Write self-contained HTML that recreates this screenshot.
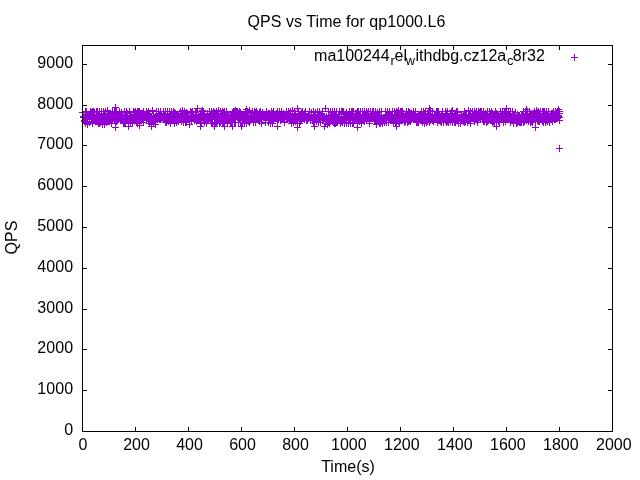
<!DOCTYPE html><html><head><meta charset="utf-8"><title>QPS vs Time for qp1000.L6</title><style>html,body{margin:0;padding:0;background:#fff}body{width:640px;height:480px;overflow:hidden}</style></head><body><svg width="640" height="480" viewBox="0 0 640 480" style="display:block">
<rect width="640" height="480" fill="#fff"/>
<g transform="translate(0.5,0.5)" shape-rendering="crispEdges" fill="none" stroke="#000" stroke-width="1">
<path stroke="#9400d3" d="M78.5 112h7M82 108.5v7M79.5 116h7M83 112.5v7M79.5 117h7M83 113.5v7M80.5 120h7M84 116.5v7M80.5 121h7M84 117.5v7M81.5 111h7M85 107.5v7M81.5 114h7M85 110.5v7M81.5 117h7M85 113.5v7M81.5 118h7M85 114.5v7M81.5 121h7M85 117.5v7M81.5 122h7M85 118.5v7M81.5 123h7M85 119.5v7M82.5 111h7M86 107.5v7M82.5 114h7M86 110.5v7M82.5 115h7M86 111.5v7M83.5 115h7M87 111.5v7M83.5 118h7M87 114.5v7M83.5 121h7M87 117.5v7M83.5 123h7M87 119.5v7M83.5 124h7M87 120.5v7M84.5 114h7M88 110.5v7M84.5 115h7M88 111.5v7M84.5 116h7M88 112.5v7M85.5 117h7M89 113.5v7M85.5 119h7M89 115.5v7M85.5 122h7M89 118.5v7M86.5 111h7M90 107.5v7M86.5 114h7M90 110.5v7M86.5 116h7M90 112.5v7M87.5 112h7M91 108.5v7M87.5 113h7M91 109.5v7M87.5 118h7M91 114.5v7M88.5 111h7M92 107.5v7M88.5 114h7M92 110.5v7M88.5 119h7M92 115.5v7M88.5 123h7M92 119.5v7M89.5 111h7M93 107.5v7M89.5 118h7M93 114.5v7M89.5 119h7M93 115.5v7M90.5 112h7M94 108.5v7M90.5 114h7M94 110.5v7M90.5 118h7M94 114.5v7M90.5 119h7M94 115.5v7M91.5 118h7M95 114.5v7M91.5 119h7M95 115.5v7M91.5 121h7M95 117.5v7M92.5 111h7M96 107.5v7M92.5 115h7M96 111.5v7M92.5 116h7M96 112.5v7M92.5 121h7M96 117.5v7M93.5 111h7M97 107.5v7M93.5 114h7M97 110.5v7M93.5 116h7M97 112.5v7M93.5 121h7M97 117.5v7M94.5 115h7M98 111.5v7M94.5 117h7M98 113.5v7M94.5 119h7M98 115.5v7M94.5 123h7M98 119.5v7M95.5 111h7M99 107.5v7M95.5 118h7M99 114.5v7M95.5 119h7M99 115.5v7M95.5 123h7M99 119.5v7M96.5 116h7M100 112.5v7M96.5 118h7M100 114.5v7M96.5 122h7M100 118.5v7M97.5 111h7M101 107.5v7M97.5 114h7M101 110.5v7M97.5 118h7M101 114.5v7M98.5 116h7M102 112.5v7M98.5 118h7M102 114.5v7M98.5 124h7M102 120.5v7M99.5 111h7M103 107.5v7M99.5 114h7M103 110.5v7M99.5 117h7M103 113.5v7M99.5 120h7M103 116.5v7M100.5 113h7M104 109.5v7M100.5 116h7M104 112.5v7M100.5 123h7M104 119.5v7M100.5 124h7M104 120.5v7M101.5 111h7M105 107.5v7M101.5 113h7M105 109.5v7M101.5 117h7M105 113.5v7M101.5 120h7M105 116.5v7M102.5 116h7M106 112.5v7M102.5 120h7M106 116.5v7M102.5 122h7M106 118.5v7M103.5 110h7M107 106.5v7M103.5 116h7M107 112.5v7M103.5 118h7M107 114.5v7M103.5 119h7M107 115.5v7M104.5 113h7M108 109.5v7M104.5 114h7M108 110.5v7M104.5 119h7M108 115.5v7M104.5 121h7M108 117.5v7M105.5 115h7M109 111.5v7M105.5 119h7M109 115.5v7M105.5 121h7M109 117.5v7M106.5 115h7M110 111.5v7M106.5 117h7M110 113.5v7M106.5 119h7M110 115.5v7M107.5 115h7M111 111.5v7M107.5 120h7M111 116.5v7M107.5 121h7M111 117.5v7M107.5 123h7M111 119.5v7M108.5 111h7M112 107.5v7M108.5 116h7M112 112.5v7M108.5 120h7M112 116.5v7M109.5 115h7M113 111.5v7M109.5 117h7M113 113.5v7M109.5 118h7M113 114.5v7M110.5 111h7M114 107.5v7M110.5 115h7M114 111.5v7M110.5 119h7M114 115.5v7M110.5 120h7M114 116.5v7M111.5 107h7M115 103.5v7M111.5 112h7M115 108.5v7M111.5 117h7M115 113.5v7M111.5 120h7M115 116.5v7M111.5 127h7M115 123.5v7M112.5 111h7M116 107.5v7M112.5 116h7M116 112.5v7M112.5 117h7M116 113.5v7M112.5 121h7M116 117.5v7M113.5 119h7M117 115.5v7M113.5 120h7M117 116.5v7M114.5 114h7M118 110.5v7M114.5 116h7M118 112.5v7M114.5 117h7M118 113.5v7M114.5 119h7M118 115.5v7M115.5 111h7M119 107.5v7M115.5 113h7M119 109.5v7M115.5 117h7M119 113.5v7M115.5 118h7M119 114.5v7M116.5 116h7M120 112.5v7M116.5 118h7M120 114.5v7M116.5 119h7M120 115.5v7M117.5 112h7M121 108.5v7M117.5 118h7M121 114.5v7M117.5 119h7M121 115.5v7M118.5 116h7M122 112.5v7M118.5 118h7M122 114.5v7M119.5 117h7M123 113.5v7M119.5 122h7M123 118.5v7M119.5 123h7M123 119.5v7M120.5 111h7M124 107.5v7M120.5 118h7M124 114.5v7M120.5 119h7M124 115.5v7M120.5 123h7M124 119.5v7M121.5 115h7M125 111.5v7M121.5 119h7M125 115.5v7M121.5 122h7M125 118.5v7M122.5 111h7M126 107.5v7M122.5 117h7M126 113.5v7M122.5 118h7M126 114.5v7M123.5 113h7M127 109.5v7M123.5 115h7M127 111.5v7M123.5 118h7M127 114.5v7M124.5 120h7M128 116.5v7M124.5 121h7M128 117.5v7M124.5 122h7M128 118.5v7M124.5 123h7M128 119.5v7M124.5 126h7M128 122.5v7M125.5 111h7M129 107.5v7M125.5 112h7M129 108.5v7M125.5 115h7M129 111.5v7M125.5 119h7M129 115.5v7M126.5 116h7M130 112.5v7M126.5 118h7M130 114.5v7M126.5 123h7M130 119.5v7M127.5 115h7M131 111.5v7M127.5 117h7M131 113.5v7M127.5 119h7M131 115.5v7M128.5 118h7M132 114.5v7M128.5 120h7M132 116.5v7M128.5 122h7M132 118.5v7M128.5 123h7M132 119.5v7M129.5 111h7M133 107.5v7M129.5 114h7M133 110.5v7M129.5 115h7M133 111.5v7M129.5 118h7M133 114.5v7M130.5 112h7M134 108.5v7M130.5 115h7M134 111.5v7M130.5 118h7M134 114.5v7M131.5 111h7M135 107.5v7M131.5 118h7M135 114.5v7M131.5 120h7M135 116.5v7M132.5 113h7M136 109.5v7M132.5 117h7M136 113.5v7M132.5 119h7M136 115.5v7M132.5 122h7M136 118.5v7M133.5 111h7M137 107.5v7M133.5 115h7M137 111.5v7M133.5 116h7M137 112.5v7M133.5 123h7M137 119.5v7M134.5 111h7M138 107.5v7M134.5 118h7M138 114.5v7M134.5 119h7M138 115.5v7M134.5 120h7M138 116.5v7M135.5 111h7M139 107.5v7M135.5 117h7M139 113.5v7M135.5 118h7M139 114.5v7M135.5 125h7M139 121.5v7M136.5 113h7M140 109.5v7M136.5 115h7M140 111.5v7M136.5 117h7M140 113.5v7M136.5 118h7M140 114.5v7M137.5 113h7M141 109.5v7M137.5 115h7M141 111.5v7M137.5 116h7M141 112.5v7M137.5 120h7M141 116.5v7M138.5 113h7M142 109.5v7M138.5 119h7M142 115.5v7M139.5 111h7M143 107.5v7M139.5 113h7M143 109.5v7M139.5 115h7M143 111.5v7M139.5 122h7M143 118.5v7M140.5 114h7M144 110.5v7M140.5 116h7M144 112.5v7M140.5 117h7M144 113.5v7M141.5 114h7M145 110.5v7M141.5 117h7M145 113.5v7M142.5 111h7M146 107.5v7M142.5 115h7M146 111.5v7M142.5 117h7M146 113.5v7M143.5 113h7M147 109.5v7M143.5 115h7M147 111.5v7M143.5 118h7M147 114.5v7M144.5 111h7M148 107.5v7M144.5 116h7M148 112.5v7M144.5 120h7M148 116.5v7M145.5 113h7M149 109.5v7M145.5 116h7M149 112.5v7M145.5 121h7M149 117.5v7M145.5 123h7M149 119.5v7M146.5 117h7M150 113.5v7M146.5 120h7M150 116.5v7M146.5 121h7M150 117.5v7M147.5 116h7M151 112.5v7M147.5 124h7M151 120.5v7M147.5 126h7M151 122.5v7M148.5 110h7M152 106.5v7M148.5 119h7M152 115.5v7M148.5 120h7M152 116.5v7M149.5 115h7M153 111.5v7M149.5 117h7M153 113.5v7M149.5 122h7M153 118.5v7M150.5 117h7M154 113.5v7M150.5 118h7M154 114.5v7M150.5 121h7M154 117.5v7M151.5 116h7M155 112.5v7M151.5 119h7M155 115.5v7M151.5 121h7M155 117.5v7M151.5 124h7M155 120.5v7M152.5 111h7M156 107.5v7M152.5 115h7M156 111.5v7M152.5 118h7M156 114.5v7M152.5 119h7M156 115.5v7M153.5 116h7M157 112.5v7M153.5 118h7M157 114.5v7M153.5 119h7M157 115.5v7M154.5 111h7M158 107.5v7M154.5 113h7M158 109.5v7M154.5 114h7M158 110.5v7M154.5 118h7M158 114.5v7M155.5 115h7M159 111.5v7M155.5 116h7M159 112.5v7M155.5 119h7M159 115.5v7M156.5 111h7M160 107.5v7M156.5 117h7M160 113.5v7M156.5 119h7M160 115.5v7M157.5 115h7M161 111.5v7M157.5 118h7M161 114.5v7M158.5 116h7M162 112.5v7M158.5 117h7M162 113.5v7M159.5 111h7M163 107.5v7M159.5 114h7M163 110.5v7M159.5 117h7M163 113.5v7M159.5 118h7M163 114.5v7M160.5 115h7M164 111.5v7M160.5 117h7M164 113.5v7M160.5 118h7M164 114.5v7M160.5 119h7M164 115.5v7M161.5 111h7M165 107.5v7M161.5 117h7M165 113.5v7M161.5 119h7M165 115.5v7M161.5 122h7M165 118.5v7M162.5 116h7M166 112.5v7M162.5 119h7M166 115.5v7M162.5 122h7M166 118.5v7M163.5 111h7M167 107.5v7M163.5 113h7M167 109.5v7M163.5 115h7M167 111.5v7M163.5 119h7M167 115.5v7M164.5 116h7M168 112.5v7M164.5 118h7M168 114.5v7M164.5 121h7M168 117.5v7M165.5 111h7M169 107.5v7M165.5 114h7M169 110.5v7M165.5 116h7M169 112.5v7M165.5 118h7M169 114.5v7M166.5 115h7M170 111.5v7M166.5 118h7M170 114.5v7M166.5 123h7M170 119.5v7M167.5 111h7M171 107.5v7M167.5 116h7M171 112.5v7M167.5 118h7M171 114.5v7M168.5 116h7M172 112.5v7M168.5 117h7M172 113.5v7M168.5 119h7M172 115.5v7M168.5 120h7M172 116.5v7M169.5 111h7M173 107.5v7M169.5 114h7M173 110.5v7M169.5 117h7M173 113.5v7M170.5 112h7M174 108.5v7M170.5 118h7M174 114.5v7M170.5 122h7M174 118.5v7M170.5 123h7M174 119.5v7M171.5 113h7M175 109.5v7M171.5 117h7M175 113.5v7M171.5 119h7M175 115.5v7M172.5 115h7M176 111.5v7M172.5 118h7M176 114.5v7M172.5 121h7M176 117.5v7M172.5 122h7M176 118.5v7M173.5 117h7M177 113.5v7M173.5 118h7M177 114.5v7M173.5 119h7M177 115.5v7M174.5 114h7M178 110.5v7M174.5 118h7M178 114.5v7M174.5 119h7M178 115.5v7M174.5 121h7M178 117.5v7M175.5 116h7M179 112.5v7M175.5 117h7M179 113.5v7M176.5 111h7M180 107.5v7M176.5 117h7M180 113.5v7M176.5 118h7M180 114.5v7M177.5 114h7M181 110.5v7M177.5 117h7M181 113.5v7M177.5 120h7M181 116.5v7M177.5 121h7M181 117.5v7M178.5 110h7M182 106.5v7M178.5 117h7M182 113.5v7M178.5 118h7M182 114.5v7M179.5 116h7M183 112.5v7M179.5 117h7M183 113.5v7M179.5 122h7M183 118.5v7M180.5 111h7M184 107.5v7M180.5 112h7M184 108.5v7M180.5 117h7M184 113.5v7M181.5 115h7M185 111.5v7M181.5 120h7M185 116.5v7M181.5 121h7M185 117.5v7M181.5 122h7M185 118.5v7M182.5 112h7M186 108.5v7M182.5 116h7M186 112.5v7M182.5 118h7M186 114.5v7M182.5 122h7M186 118.5v7M183.5 113h7M187 109.5v7M183.5 116h7M187 112.5v7M183.5 118h7M187 114.5v7M183.5 119h7M187 115.5v7M184.5 116h7M188 112.5v7M184.5 118h7M188 114.5v7M184.5 119h7M188 115.5v7M185.5 118h7M189 114.5v7M185.5 120h7M189 116.5v7M185.5 121h7M189 117.5v7M185.5 124h7M189 120.5v7M186.5 111h7M190 107.5v7M186.5 117h7M190 113.5v7M186.5 118h7M190 114.5v7M187.5 112h7M191 108.5v7M187.5 117h7M191 113.5v7M187.5 118h7M191 114.5v7M187.5 120h7M191 116.5v7M188.5 111h7M192 107.5v7M188.5 115h7M192 111.5v7M188.5 117h7M192 113.5v7M189.5 115h7M193 111.5v7M189.5 116h7M193 112.5v7M190.5 117h7M194 113.5v7M190.5 118h7M194 114.5v7M190.5 120h7M194 116.5v7M191.5 112h7M195 108.5v7M191.5 118h7M195 114.5v7M191.5 119h7M195 115.5v7M192.5 111h7M196 107.5v7M192.5 116h7M196 112.5v7M192.5 117h7M196 113.5v7M192.5 121h7M196 117.5v7M193.5 108h7M197 104.5v7M193.5 117h7M197 113.5v7M193.5 119h7M197 115.5v7M194.5 116h7M198 112.5v7M194.5 117h7M198 113.5v7M194.5 119h7M198 115.5v7M194.5 120h7M198 116.5v7M195.5 116h7M199 112.5v7M195.5 117h7M199 113.5v7M195.5 118h7M199 114.5v7M195.5 119h7M199 115.5v7M196.5 115h7M200 111.5v7M196.5 116h7M200 112.5v7M196.5 123h7M200 119.5v7M196.5 126h7M200 122.5v7M197.5 111h7M201 107.5v7M197.5 123h7M201 119.5v7M198.5 110h7M202 106.5v7M198.5 113h7M202 109.5v7M198.5 115h7M202 111.5v7M198.5 117h7M202 113.5v7M199.5 111h7M203 107.5v7M199.5 113h7M203 109.5v7M199.5 114h7M203 110.5v7M199.5 120h7M203 116.5v7M200.5 115h7M204 111.5v7M200.5 119h7M204 115.5v7M200.5 122h7M204 118.5v7M201.5 116h7M205 112.5v7M201.5 117h7M205 113.5v7M201.5 118h7M205 114.5v7M201.5 119h7M205 115.5v7M202.5 117h7M206 113.5v7M202.5 118h7M206 114.5v7M202.5 123h7M206 119.5v7M203.5 113h7M207 109.5v7M203.5 116h7M207 112.5v7M203.5 118h7M207 114.5v7M203.5 120h7M207 116.5v7M204.5 118h7M208 114.5v7M204.5 119h7M208 115.5v7M204.5 120h7M208 116.5v7M205.5 111h7M209 107.5v7M205.5 116h7M209 112.5v7M205.5 118h7M209 114.5v7M206.5 114h7M210 110.5v7M206.5 119h7M210 115.5v7M207.5 111h7M211 107.5v7M207.5 117h7M211 113.5v7M207.5 118h7M211 114.5v7M207.5 123h7M211 119.5v7M208.5 113h7M212 109.5v7M208.5 119h7M212 115.5v7M208.5 123h7M212 119.5v7M209.5 111h7M213 107.5v7M209.5 116h7M213 112.5v7M210.5 112h7M214 108.5v7M210.5 117h7M214 113.5v7M210.5 122h7M214 118.5v7M210.5 124h7M214 120.5v7M210.5 126h7M214 122.5v7M211.5 116h7M215 112.5v7M211.5 118h7M215 114.5v7M211.5 122h7M215 118.5v7M212.5 111h7M216 107.5v7M212.5 116h7M216 112.5v7M212.5 117h7M216 113.5v7M212.5 122h7M216 118.5v7M213.5 116h7M217 112.5v7M213.5 117h7M217 113.5v7M213.5 118h7M217 114.5v7M214.5 110h7M218 106.5v7M214.5 114h7M218 110.5v7M214.5 116h7M218 112.5v7M214.5 118h7M218 114.5v7M215.5 116h7M219 112.5v7M215.5 118h7M219 114.5v7M215.5 123h7M219 119.5v7M216.5 111h7M220 107.5v7M216.5 116h7M220 112.5v7M216.5 122h7M220 118.5v7M217.5 115h7M221 111.5v7M217.5 116h7M221 112.5v7M217.5 118h7M221 114.5v7M218.5 111h7M222 107.5v7M218.5 114h7M222 110.5v7M218.5 115h7M222 111.5v7M218.5 122h7M222 118.5v7M219.5 112h7M223 108.5v7M219.5 117h7M223 113.5v7M219.5 122h7M223 118.5v7M220.5 111h7M224 107.5v7M220.5 118h7M224 114.5v7M220.5 119h7M224 115.5v7M220.5 122h7M224 118.5v7M220.5 126h7M224 122.5v7M221.5 115h7M225 111.5v7M221.5 117h7M225 113.5v7M221.5 118h7M225 114.5v7M222.5 111h7M226 107.5v7M222.5 114h7M226 110.5v7M222.5 115h7M226 111.5v7M222.5 120h7M226 116.5v7M223.5 115h7M227 111.5v7M223.5 116h7M227 112.5v7M223.5 121h7M227 117.5v7M223.5 123h7M227 119.5v7M224.5 115h7M228 111.5v7M224.5 118h7M228 114.5v7M224.5 120h7M228 116.5v7M225.5 117h7M229 113.5v7M225.5 118h7M229 114.5v7M225.5 120h7M229 116.5v7M226.5 116h7M230 112.5v7M226.5 119h7M230 115.5v7M226.5 122h7M230 118.5v7M227.5 114h7M231 110.5v7M227.5 117h7M231 113.5v7M227.5 122h7M231 118.5v7M228.5 112h7M232 108.5v7M228.5 115h7M232 111.5v7M228.5 118h7M232 114.5v7M228.5 126h7M232 122.5v7M229.5 111h7M233 107.5v7M229.5 114h7M233 110.5v7M229.5 118h7M233 114.5v7M229.5 119h7M233 115.5v7M230.5 111h7M234 107.5v7M230.5 117h7M234 113.5v7M230.5 122h7M234 118.5v7M231.5 110h7M235 106.5v7M231.5 113h7M235 109.5v7M231.5 117h7M235 113.5v7M231.5 122h7M235 118.5v7M232.5 111h7M236 107.5v7M232.5 112h7M236 108.5v7M232.5 115h7M236 111.5v7M233.5 111h7M237 107.5v7M233.5 116h7M237 112.5v7M233.5 117h7M237 113.5v7M234.5 116h7M238 112.5v7M234.5 117h7M238 113.5v7M234.5 118h7M238 114.5v7M234.5 122h7M238 118.5v7M235.5 111h7M239 107.5v7M235.5 113h7M239 109.5v7M235.5 116h7M239 112.5v7M235.5 119h7M239 115.5v7M236.5 112h7M240 108.5v7M236.5 114h7M240 110.5v7M236.5 118h7M240 114.5v7M236.5 122h7M240 118.5v7M237.5 114h7M241 110.5v7M237.5 117h7M241 113.5v7M237.5 126h7M241 122.5v7M238.5 118h7M242 114.5v7M238.5 119h7M242 115.5v7M238.5 122h7M242 118.5v7M239.5 116h7M243 112.5v7M239.5 117h7M243 113.5v7M239.5 119h7M243 115.5v7M240.5 114h7M244 110.5v7M240.5 115h7M244 111.5v7M240.5 120h7M244 116.5v7M240.5 122h7M244 118.5v7M241.5 111h7M245 107.5v7M241.5 116h7M245 112.5v7M241.5 118h7M245 114.5v7M242.5 109h7M246 105.5v7M242.5 111h7M246 107.5v7M242.5 112h7M246 108.5v7M242.5 118h7M246 114.5v7M242.5 123h7M246 119.5v7M243.5 111h7M247 107.5v7M243.5 115h7M247 111.5v7M243.5 118h7M247 114.5v7M244.5 113h7M248 109.5v7M244.5 115h7M248 111.5v7M244.5 118h7M248 114.5v7M244.5 121h7M248 117.5v7M245.5 110h7M249 106.5v7M245.5 119h7M249 115.5v7M245.5 121h7M249 117.5v7M245.5 122h7M249 118.5v7M246.5 116h7M250 112.5v7M246.5 118h7M250 114.5v7M246.5 120h7M250 116.5v7M247.5 113h7M251 109.5v7M247.5 116h7M251 112.5v7M247.5 117h7M251 113.5v7M247.5 118h7M251 114.5v7M248.5 111h7M252 107.5v7M248.5 112h7M252 108.5v7M248.5 113h7M252 109.5v7M248.5 119h7M252 115.5v7M249.5 116h7M253 112.5v7M249.5 118h7M253 114.5v7M249.5 122h7M253 118.5v7M250.5 111h7M254 107.5v7M250.5 118h7M254 114.5v7M250.5 119h7M254 115.5v7M251.5 112h7M255 108.5v7M251.5 116h7M255 112.5v7M251.5 117h7M255 113.5v7M251.5 122h7M255 118.5v7M252.5 111h7M256 107.5v7M252.5 115h7M256 111.5v7M252.5 118h7M256 114.5v7M252.5 119h7M256 115.5v7M253.5 113h7M257 109.5v7M253.5 115h7M257 111.5v7M253.5 117h7M257 113.5v7M253.5 118h7M257 114.5v7M254.5 114h7M258 110.5v7M254.5 115h7M258 111.5v7M254.5 118h7M258 114.5v7M255.5 112h7M259 108.5v7M255.5 115h7M259 111.5v7M255.5 121h7M259 117.5v7M256.5 111h7M260 107.5v7M256.5 115h7M260 111.5v7M256.5 116h7M260 112.5v7M256.5 118h7M260 114.5v7M257.5 114h7M261 110.5v7M257.5 118h7M261 114.5v7M257.5 123h7M261 119.5v7M258.5 112h7M262 108.5v7M258.5 113h7M262 109.5v7M258.5 115h7M262 111.5v7M258.5 116h7M262 112.5v7M259.5 116h7M263 112.5v7M259.5 117h7M263 113.5v7M260.5 114h7M264 110.5v7M260.5 116h7M264 112.5v7M260.5 117h7M264 113.5v7M261.5 115h7M265 111.5v7M261.5 116h7M265 112.5v7M261.5 119h7M265 115.5v7M261.5 122h7M265 118.5v7M262.5 111h7M266 107.5v7M262.5 116h7M266 112.5v7M262.5 117h7M266 113.5v7M263.5 115h7M267 111.5v7M263.5 117h7M267 113.5v7M264.5 113h7M268 109.5v7M264.5 115h7M268 111.5v7M264.5 118h7M268 114.5v7M264.5 122h7M268 118.5v7M265.5 113h7M269 109.5v7M265.5 114h7M269 110.5v7M265.5 116h7M269 112.5v7M266.5 117h7M270 113.5v7M266.5 119h7M270 115.5v7M266.5 120h7M270 116.5v7M266.5 123h7M270 119.5v7M267.5 111h7M271 107.5v7M267.5 117h7M271 113.5v7M267.5 119h7M271 115.5v7M268.5 113h7M272 109.5v7M268.5 121h7M272 117.5v7M268.5 123h7M272 119.5v7M269.5 111h7M273 107.5v7M269.5 112h7M273 108.5v7M269.5 119h7M273 115.5v7M269.5 120h7M273 116.5v7M270.5 114h7M274 110.5v7M270.5 117h7M274 113.5v7M270.5 118h7M274 114.5v7M271.5 115h7M275 111.5v7M271.5 116h7M275 112.5v7M271.5 117h7M275 113.5v7M271.5 118h7M275 114.5v7M272.5 113h7M276 109.5v7M272.5 116h7M276 112.5v7M272.5 118h7M276 114.5v7M273.5 111h7M277 107.5v7M273.5 114h7M277 110.5v7M273.5 117h7M277 113.5v7M273.5 119h7M277 115.5v7M273.5 126h7M277 122.5v7M274.5 117h7M278 113.5v7M274.5 119h7M278 115.5v7M275.5 111h7M279 107.5v7M275.5 114h7M279 110.5v7M275.5 116h7M279 112.5v7M275.5 117h7M279 113.5v7M276.5 117h7M280 113.5v7M276.5 119h7M280 115.5v7M276.5 120h7M280 116.5v7M277.5 111h7M281 107.5v7M277.5 112h7M281 108.5v7M277.5 116h7M281 112.5v7M278.5 115h7M282 111.5v7M278.5 117h7M282 113.5v7M278.5 118h7M282 114.5v7M278.5 119h7M282 115.5v7M279.5 113h7M283 109.5v7M279.5 115h7M283 111.5v7M280.5 116h7M284 112.5v7M280.5 119h7M284 115.5v7M280.5 121h7M284 117.5v7M280.5 122h7M284 118.5v7M281.5 114h7M285 110.5v7M281.5 115h7M285 111.5v7M281.5 116h7M285 112.5v7M282.5 111h7M286 107.5v7M282.5 112h7M286 108.5v7M282.5 114h7M286 110.5v7M283.5 114h7M287 110.5v7M283.5 115h7M287 111.5v7M284.5 111h7M288 107.5v7M284.5 115h7M288 111.5v7M284.5 118h7M288 114.5v7M285.5 114h7M289 110.5v7M285.5 115h7M289 111.5v7M285.5 118h7M289 114.5v7M285.5 120h7M289 116.5v7M286.5 111h7M290 107.5v7M286.5 114h7M290 110.5v7M286.5 119h7M290 115.5v7M287.5 116h7M291 112.5v7M287.5 117h7M291 113.5v7M287.5 123h7M291 119.5v7M288.5 110h7M292 106.5v7M288.5 114h7M292 110.5v7M288.5 117h7M292 113.5v7M289.5 117h7M293 113.5v7M289.5 118h7M293 114.5v7M289.5 122h7M293 118.5v7M290.5 111h7M294 107.5v7M290.5 117h7M294 113.5v7M291.5 113h7M295 109.5v7M291.5 118h7M295 114.5v7M291.5 120h7M295 116.5v7M291.5 121h7M295 117.5v7M292.5 116h7M296 112.5v7M292.5 117h7M296 113.5v7M292.5 119h7M296 115.5v7M293.5 108h7M297 104.5v7M293.5 117h7M297 113.5v7M293.5 118h7M297 114.5v7M293.5 119h7M297 115.5v7M293.5 127h7M297 123.5v7M294.5 111h7M298 107.5v7M294.5 115h7M298 111.5v7M295.5 114h7M299 110.5v7M295.5 115h7M299 111.5v7M295.5 116h7M299 112.5v7M295.5 123h7M299 119.5v7M296.5 114h7M300 110.5v7M296.5 116h7M300 112.5v7M296.5 118h7M300 114.5v7M296.5 121h7M300 117.5v7M297.5 112h7M301 108.5v7M297.5 113h7M301 109.5v7M297.5 116h7M301 112.5v7M297.5 119h7M301 115.5v7M298.5 111h7M302 107.5v7M298.5 114h7M302 110.5v7M298.5 116h7M302 112.5v7M298.5 117h7M302 113.5v7M299.5 117h7M303 113.5v7M299.5 118h7M303 114.5v7M300.5 113h7M304 109.5v7M300.5 115h7M304 111.5v7M300.5 118h7M304 114.5v7M300.5 119h7M304 115.5v7M301.5 111h7M305 107.5v7M301.5 115h7M305 111.5v7M301.5 117h7M305 113.5v7M302.5 116h7M306 112.5v7M302.5 118h7M306 114.5v7M302.5 119h7M306 115.5v7M302.5 120h7M306 116.5v7M303.5 117h7M307 113.5v7M303.5 120h7M307 116.5v7M304.5 114h7M308 110.5v7M304.5 117h7M308 113.5v7M304.5 118h7M308 114.5v7M305.5 111h7M309 107.5v7M305.5 115h7M309 111.5v7M305.5 116h7M309 112.5v7M306.5 118h7M310 114.5v7M306.5 119h7M310 115.5v7M306.5 120h7M310 116.5v7M307.5 112h7M311 108.5v7M307.5 114h7M311 110.5v7M307.5 117h7M311 113.5v7M308.5 117h7M312 113.5v7M308.5 119h7M312 115.5v7M308.5 120h7M312 116.5v7M309.5 111h7M313 107.5v7M309.5 117h7M313 113.5v7M309.5 118h7M313 114.5v7M309.5 122h7M313 118.5v7M310.5 114h7M314 110.5v7M310.5 115h7M314 111.5v7M310.5 116h7M314 112.5v7M310.5 118h7M314 114.5v7M310.5 126h7M314 122.5v7M311.5 112h7M315 108.5v7M311.5 115h7M315 111.5v7M311.5 116h7M315 112.5v7M311.5 119h7M315 115.5v7M312.5 117h7M316 113.5v7M312.5 119h7M316 115.5v7M312.5 121h7M316 117.5v7M313.5 111h7M317 107.5v7M313.5 114h7M317 110.5v7M313.5 116h7M317 112.5v7M314.5 116h7M318 112.5v7M314.5 117h7M318 113.5v7M314.5 120h7M318 116.5v7M314.5 122h7M318 118.5v7M315.5 111h7M319 107.5v7M315.5 116h7M319 112.5v7M315.5 118h7M319 114.5v7M315.5 119h7M319 115.5v7M316.5 115h7M320 111.5v7M316.5 117h7M320 113.5v7M316.5 118h7M320 114.5v7M316.5 122h7M320 118.5v7M317.5 115h7M321 111.5v7M317.5 116h7M321 112.5v7M317.5 117h7M321 113.5v7M318.5 111h7M322 107.5v7M318.5 115h7M322 111.5v7M318.5 118h7M322 114.5v7M319.5 116h7M323 112.5v7M319.5 117h7M323 113.5v7M319.5 118h7M323 114.5v7M320.5 116h7M324 112.5v7M320.5 118h7M324 114.5v7M320.5 126h7M324 122.5v7M321.5 108h7M325 104.5v7M321.5 118h7M325 114.5v7M321.5 120h7M325 116.5v7M321.5 123h7M325 119.5v7M322.5 116h7M326 112.5v7M322.5 118h7M326 114.5v7M322.5 119h7M326 115.5v7M323.5 118h7M327 114.5v7M323.5 121h7M327 117.5v7M323.5 123h7M327 119.5v7M323.5 124h7M327 120.5v7M324.5 111h7M328 107.5v7M324.5 117h7M328 113.5v7M324.5 118h7M328 114.5v7M324.5 122h7M328 118.5v7M325.5 117h7M329 113.5v7M325.5 120h7M329 116.5v7M325.5 123h7M329 119.5v7M326.5 111h7M330 107.5v7M326.5 115h7M330 111.5v7M326.5 117h7M330 113.5v7M326.5 118h7M330 114.5v7M327.5 114h7M331 110.5v7M327.5 116h7M331 112.5v7M327.5 119h7M331 115.5v7M328.5 111h7M332 107.5v7M328.5 112h7M332 108.5v7M328.5 115h7M332 111.5v7M328.5 121h7M332 117.5v7M329.5 115h7M333 111.5v7M329.5 118h7M333 114.5v7M329.5 122h7M333 118.5v7M330.5 111h7M334 107.5v7M330.5 116h7M334 112.5v7M330.5 123h7M334 119.5v7M331.5 115h7M335 111.5v7M331.5 116h7M335 112.5v7M331.5 117h7M335 113.5v7M331.5 123h7M335 119.5v7M332.5 111h7M336 107.5v7M332.5 114h7M336 110.5v7M332.5 117h7M336 113.5v7M332.5 122h7M336 118.5v7M333.5 117h7M337 113.5v7M333.5 118h7M337 114.5v7M333.5 122h7M337 118.5v7M334.5 114h7M338 110.5v7M334.5 116h7M338 112.5v7M334.5 120h7M338 116.5v7M335.5 111h7M339 107.5v7M335.5 114h7M339 110.5v7M335.5 117h7M339 113.5v7M335.5 118h7M339 114.5v7M336.5 119h7M340 115.5v7M336.5 120h7M340 116.5v7M336.5 123h7M340 119.5v7M337.5 111h7M341 107.5v7M337.5 112h7M341 108.5v7M337.5 121h7M341 117.5v7M338.5 111h7M342 107.5v7M338.5 119h7M342 115.5v7M338.5 120h7M342 116.5v7M338.5 122h7M342 118.5v7M339.5 111h7M343 107.5v7M339.5 113h7M343 109.5v7M339.5 117h7M343 113.5v7M340.5 114h7M344 110.5v7M340.5 120h7M344 116.5v7M340.5 122h7M344 118.5v7M340.5 123h7M344 119.5v7M341.5 116h7M345 112.5v7M341.5 117h7M345 113.5v7M341.5 118h7M345 114.5v7M341.5 120h7M345 116.5v7M342.5 112h7M346 108.5v7M342.5 116h7M346 112.5v7M342.5 117h7M346 113.5v7M342.5 123h7M346 119.5v7M343.5 114h7M347 110.5v7M343.5 116h7M347 112.5v7M343.5 117h7M347 113.5v7M344.5 116h7M348 112.5v7M344.5 120h7M348 116.5v7M344.5 123h7M348 119.5v7M345.5 111h7M349 107.5v7M345.5 118h7M349 114.5v7M345.5 120h7M349 116.5v7M346.5 114h7M350 110.5v7M346.5 115h7M350 111.5v7M346.5 119h7M350 115.5v7M346.5 123h7M350 119.5v7M347.5 111h7M351 107.5v7M347.5 115h7M351 111.5v7M348.5 111h7M352 107.5v7M348.5 115h7M352 111.5v7M348.5 119h7M352 115.5v7M348.5 123h7M352 119.5v7M349.5 111h7M353 107.5v7M349.5 115h7M353 111.5v7M349.5 122h7M353 118.5v7M349.5 123h7M353 119.5v7M350.5 116h7M354 112.5v7M350.5 117h7M354 113.5v7M350.5 119h7M354 115.5v7M351.5 113h7M355 109.5v7M351.5 114h7M355 110.5v7M351.5 115h7M355 111.5v7M351.5 116h7M355 112.5v7M352.5 113h7M356 109.5v7M352.5 117h7M356 113.5v7M352.5 118h7M356 114.5v7M353.5 111h7M357 107.5v7M353.5 120h7M357 116.5v7M353.5 121h7M357 117.5v7M353.5 127h7M357 123.5v7M354.5 111h7M358 107.5v7M354.5 115h7M358 111.5v7M354.5 116h7M358 112.5v7M354.5 119h7M358 115.5v7M355.5 115h7M359 111.5v7M355.5 116h7M359 112.5v7M355.5 119h7M359 115.5v7M355.5 121h7M359 117.5v7M356.5 111h7M360 107.5v7M356.5 117h7M360 113.5v7M356.5 118h7M360 114.5v7M357.5 118h7M361 114.5v7M357.5 120h7M361 116.5v7M357.5 122h7M361 118.5v7M357.5 123h7M361 119.5v7M358.5 111h7M362 107.5v7M358.5 117h7M362 113.5v7M358.5 120h7M362 116.5v7M359.5 115h7M363 111.5v7M359.5 117h7M363 113.5v7M359.5 119h7M363 115.5v7M359.5 120h7M363 116.5v7M360.5 111h7M364 107.5v7M360.5 114h7M364 110.5v7M360.5 116h7M364 112.5v7M360.5 121h7M364 117.5v7M361.5 114h7M365 110.5v7M361.5 116h7M365 112.5v7M361.5 117h7M365 113.5v7M362.5 111h7M366 107.5v7M362.5 115h7M366 111.5v7M362.5 118h7M366 114.5v7M362.5 120h7M366 116.5v7M363.5 113h7M367 109.5v7M363.5 114h7M367 110.5v7M363.5 115h7M367 111.5v7M363.5 116h7M367 112.5v7M364.5 111h7M368 107.5v7M364.5 115h7M368 111.5v7M364.5 117h7M368 113.5v7M364.5 118h7M368 114.5v7M365.5 117h7M369 113.5v7M365.5 121h7M369 117.5v7M365.5 123h7M369 119.5v7M366.5 111h7M370 107.5v7M366.5 114h7M370 110.5v7M366.5 117h7M370 113.5v7M367.5 115h7M371 111.5v7M367.5 116h7M371 112.5v7M368.5 111h7M372 107.5v7M368.5 118h7M372 114.5v7M369.5 111h7M373 107.5v7M369.5 116h7M373 112.5v7M369.5 117h7M373 113.5v7M370.5 115h7M374 111.5v7M370.5 116h7M374 112.5v7M370.5 118h7M374 114.5v7M370.5 120h7M374 116.5v7M371.5 111h7M375 107.5v7M371.5 115h7M375 111.5v7M371.5 116h7M375 112.5v7M371.5 120h7M375 116.5v7M372.5 114h7M376 110.5v7M372.5 116h7M376 112.5v7M372.5 121h7M376 117.5v7M372.5 124h7M376 120.5v7M373.5 112h7M377 108.5v7M373.5 116h7M377 112.5v7M373.5 117h7M377 113.5v7M373.5 119h7M377 115.5v7M374.5 115h7M378 111.5v7M374.5 117h7M378 113.5v7M374.5 119h7M378 115.5v7M375.5 111h7M379 107.5v7M375.5 115h7M379 111.5v7M375.5 120h7M379 116.5v7M375.5 123h7M379 119.5v7M376.5 117h7M380 113.5v7M376.5 119h7M380 115.5v7M376.5 123h7M380 119.5v7M377.5 111h7M381 107.5v7M377.5 116h7M381 112.5v7M377.5 118h7M381 114.5v7M377.5 121h7M381 117.5v7M378.5 118h7M382 114.5v7M378.5 122h7M382 118.5v7M378.5 123h7M382 119.5v7M379.5 117h7M383 113.5v7M379.5 119h7M383 115.5v7M380.5 117h7M384 113.5v7M380.5 120h7M384 116.5v7M380.5 122h7M384 118.5v7M381.5 111h7M385 107.5v7M381.5 119h7M385 115.5v7M381.5 120h7M385 116.5v7M382.5 114h7M386 110.5v7M382.5 115h7M386 111.5v7M382.5 118h7M386 114.5v7M382.5 122h7M386 118.5v7M383.5 111h7M387 107.5v7M383.5 115h7M387 111.5v7M384.5 116h7M388 112.5v7M384.5 117h7M388 113.5v7M384.5 118h7M388 114.5v7M384.5 122h7M388 118.5v7M385.5 111h7M389 107.5v7M385.5 112h7M389 108.5v7M385.5 117h7M389 113.5v7M385.5 118h7M389 114.5v7M386.5 114h7M390 110.5v7M386.5 115h7M390 111.5v7M386.5 118h7M390 114.5v7M387.5 115h7M391 111.5v7M387.5 120h7M391 116.5v7M388.5 111h7M392 107.5v7M388.5 116h7M392 112.5v7M388.5 118h7M392 114.5v7M388.5 119h7M392 115.5v7M389.5 117h7M393 113.5v7M389.5 120h7M393 116.5v7M389.5 123h7M393 119.5v7M390.5 111h7M394 107.5v7M390.5 115h7M394 111.5v7M390.5 116h7M394 112.5v7M390.5 117h7M394 113.5v7M391.5 115h7M395 111.5v7M391.5 117h7M395 113.5v7M391.5 121h7M395 117.5v7M391.5 122h7M395 118.5v7M392.5 111h7M396 107.5v7M392.5 115h7M396 111.5v7M392.5 118h7M396 114.5v7M392.5 126h7M396 122.5v7M393.5 112h7M397 108.5v7M393.5 114h7M397 110.5v7M393.5 119h7M397 115.5v7M393.5 120h7M397 116.5v7M394.5 110h7M398 106.5v7M394.5 114h7M398 110.5v7M394.5 116h7M398 112.5v7M394.5 121h7M398 117.5v7M395.5 115h7M399 111.5v7M395.5 118h7M399 114.5v7M395.5 123h7M399 119.5v7M396.5 111h7M400 107.5v7M396.5 115h7M400 111.5v7M396.5 119h7M400 115.5v7M397.5 111h7M401 107.5v7M397.5 115h7M401 111.5v7M397.5 116h7M401 112.5v7M397.5 119h7M401 115.5v7M398.5 111h7M402 107.5v7M398.5 116h7M402 112.5v7M398.5 117h7M402 113.5v7M398.5 118h7M402 114.5v7M399.5 113h7M403 109.5v7M399.5 115h7M403 111.5v7M399.5 116h7M403 112.5v7M399.5 118h7M403 114.5v7M400.5 117h7M404 113.5v7M400.5 119h7M404 115.5v7M400.5 122h7M404 118.5v7M401.5 115h7M405 111.5v7M401.5 117h7M405 113.5v7M401.5 119h7M405 115.5v7M401.5 121h7M405 117.5v7M402.5 111h7M406 107.5v7M402.5 116h7M406 112.5v7M402.5 117h7M406 113.5v7M403.5 116h7M407 112.5v7M403.5 117h7M407 113.5v7M403.5 122h7M407 118.5v7M404.5 111h7M408 107.5v7M404.5 115h7M408 111.5v7M404.5 118h7M408 114.5v7M404.5 121h7M408 117.5v7M405.5 112h7M409 108.5v7M405.5 119h7M409 115.5v7M405.5 120h7M409 116.5v7M406.5 113h7M410 109.5v7M406.5 115h7M410 111.5v7M406.5 119h7M410 115.5v7M406.5 121h7M410 117.5v7M407.5 113h7M411 109.5v7M407.5 117h7M411 113.5v7M407.5 118h7M411 114.5v7M407.5 119h7M411 115.5v7M408.5 114h7M412 110.5v7M408.5 116h7M412 112.5v7M408.5 117h7M412 113.5v7M409.5 111h7M413 107.5v7M409.5 117h7M413 113.5v7M409.5 118h7M413 114.5v7M410.5 114h7M414 110.5v7M410.5 117h7M414 113.5v7M410.5 118h7M414 114.5v7M411.5 111h7M415 107.5v7M411.5 114h7M415 110.5v7M411.5 117h7M415 113.5v7M411.5 118h7M415 114.5v7M412.5 116h7M416 112.5v7M412.5 117h7M416 113.5v7M412.5 118h7M416 114.5v7M412.5 122h7M416 118.5v7M413.5 116h7M417 112.5v7M413.5 120h7M417 116.5v7M413.5 122h7M417 118.5v7M414.5 114h7M418 110.5v7M414.5 115h7M418 111.5v7M414.5 122h7M418 118.5v7M415.5 115h7M419 111.5v7M415.5 116h7M419 112.5v7M415.5 117h7M419 113.5v7M415.5 119h7M419 115.5v7M416.5 114h7M420 110.5v7M416.5 119h7M420 115.5v7M416.5 120h7M420 116.5v7M417.5 111h7M421 107.5v7M417.5 117h7M421 113.5v7M417.5 118h7M421 114.5v7M418.5 114h7M422 110.5v7M418.5 118h7M422 114.5v7M418.5 122h7M422 118.5v7M419.5 111h7M423 107.5v7M419.5 116h7M423 112.5v7M419.5 117h7M423 113.5v7M420.5 113h7M424 109.5v7M420.5 116h7M424 112.5v7M420.5 121h7M424 117.5v7M420.5 123h7M424 119.5v7M421.5 111h7M425 107.5v7M421.5 116h7M425 112.5v7M421.5 117h7M425 113.5v7M421.5 120h7M425 116.5v7M422.5 117h7M426 113.5v7M422.5 119h7M426 115.5v7M422.5 122h7M426 118.5v7M423.5 115h7M427 111.5v7M423.5 120h7M427 116.5v7M423.5 121h7M427 117.5v7M424.5 111h7M428 107.5v7M424.5 113h7M428 109.5v7M424.5 114h7M428 110.5v7M424.5 115h7M428 111.5v7M425.5 108h7M429 104.5v7M425.5 113h7M429 109.5v7M425.5 116h7M429 112.5v7M425.5 117h7M429 113.5v7M425.5 122h7M429 118.5v7M426.5 110h7M430 106.5v7M426.5 116h7M430 112.5v7M426.5 118h7M430 114.5v7M426.5 120h7M430 116.5v7M427.5 117h7M431 113.5v7M427.5 118h7M431 114.5v7M428.5 111h7M432 107.5v7M428.5 115h7M432 111.5v7M428.5 119h7M432 115.5v7M428.5 120h7M432 116.5v7M429.5 117h7M433 113.5v7M429.5 121h7M433 117.5v7M430.5 115h7M434 111.5v7M430.5 116h7M434 112.5v7M430.5 118h7M434 114.5v7M431.5 115h7M435 111.5v7M431.5 118h7M435 114.5v7M431.5 119h7M435 115.5v7M432.5 111h7M436 107.5v7M432.5 115h7M436 111.5v7M432.5 116h7M436 112.5v7M432.5 117h7M436 113.5v7M433.5 111h7M437 107.5v7M433.5 118h7M437 114.5v7M433.5 119h7M437 115.5v7M433.5 122h7M437 118.5v7M434.5 111h7M438 107.5v7M434.5 117h7M438 113.5v7M434.5 120h7M438 116.5v7M435.5 114h7M439 110.5v7M435.5 117h7M439 113.5v7M435.5 118h7M439 114.5v7M435.5 120h7M439 116.5v7M436.5 116h7M440 112.5v7M436.5 119h7M440 115.5v7M436.5 121h7M440 117.5v7M437.5 114h7M441 110.5v7M437.5 116h7M441 112.5v7M437.5 117h7M441 113.5v7M437.5 122h7M441 118.5v7M438.5 111h7M442 107.5v7M438.5 115h7M442 111.5v7M438.5 118h7M442 114.5v7M438.5 119h7M442 115.5v7M439.5 117h7M443 113.5v7M439.5 122h7M443 118.5v7M440.5 117h7M444 113.5v7M440.5 118h7M444 114.5v7M441.5 111h7M445 107.5v7M441.5 114h7M445 110.5v7M441.5 115h7M445 111.5v7M441.5 120h7M445 116.5v7M442.5 113h7M446 109.5v7M442.5 118h7M446 114.5v7M442.5 120h7M446 116.5v7M442.5 122h7M446 118.5v7M443.5 111h7M447 107.5v7M443.5 115h7M447 111.5v7M443.5 117h7M447 113.5v7M443.5 121h7M447 117.5v7M444.5 116h7M448 112.5v7M444.5 122h7M448 118.5v7M445.5 116h7M449 112.5v7M445.5 118h7M449 114.5v7M446.5 114h7M450 110.5v7M446.5 115h7M450 111.5v7M446.5 120h7M450 116.5v7M446.5 121h7M450 117.5v7M447.5 111h7M451 107.5v7M447.5 115h7M451 111.5v7M447.5 116h7M451 112.5v7M448.5 110h7M452 106.5v7M448.5 118h7M452 114.5v7M448.5 120h7M452 116.5v7M448.5 122h7M452 118.5v7M449.5 116h7M453 112.5v7M449.5 117h7M453 113.5v7M449.5 118h7M453 114.5v7M450.5 114h7M454 110.5v7M450.5 116h7M454 112.5v7M450.5 117h7M454 113.5v7M450.5 122h7M454 118.5v7M451.5 115h7M455 111.5v7M451.5 116h7M455 112.5v7M451.5 117h7M455 113.5v7M451.5 122h7M455 118.5v7M452.5 111h7M456 107.5v7M452.5 118h7M456 114.5v7M453.5 111h7M457 107.5v7M453.5 112h7M457 108.5v7M453.5 117h7M457 113.5v7M454.5 118h7M458 114.5v7M454.5 120h7M458 116.5v7M454.5 121h7M458 117.5v7M454.5 123h7M458 119.5v7M455.5 117h7M459 113.5v7M455.5 118h7M459 114.5v7M456.5 117h7M460 113.5v7M456.5 118h7M460 114.5v7M456.5 120h7M460 116.5v7M456.5 123h7M460 119.5v7M457.5 114h7M461 110.5v7M457.5 118h7M461 114.5v7M457.5 120h7M461 116.5v7M458.5 116h7M462 112.5v7M458.5 118h7M462 114.5v7M458.5 120h7M462 116.5v7M459.5 115h7M463 111.5v7M459.5 117h7M463 113.5v7M459.5 119h7M463 115.5v7M459.5 121h7M463 117.5v7M460.5 111h7M464 107.5v7M460.5 117h7M464 113.5v7M460.5 121h7M464 117.5v7M460.5 122h7M464 118.5v7M461.5 114h7M465 110.5v7M461.5 116h7M465 112.5v7M461.5 118h7M465 114.5v7M461.5 121h7M465 117.5v7M462.5 115h7M466 111.5v7M462.5 118h7M466 114.5v7M462.5 119h7M466 115.5v7M463.5 117h7M467 113.5v7M463.5 118h7M467 114.5v7M463.5 119h7M467 115.5v7M463.5 122h7M467 118.5v7M464.5 110h7M468 106.5v7M464.5 111h7M468 107.5v7M464.5 119h7M468 115.5v7M464.5 120h7M468 116.5v7M465.5 115h7M469 111.5v7M465.5 117h7M469 113.5v7M465.5 119h7M469 115.5v7M465.5 120h7M469 116.5v7M466.5 111h7M470 107.5v7M466.5 118h7M470 114.5v7M466.5 120h7M470 116.5v7M466.5 123h7M470 119.5v7M467.5 116h7M471 112.5v7M467.5 118h7M471 114.5v7M468.5 111h7M472 107.5v7M468.5 114h7M472 110.5v7M468.5 117h7M472 113.5v7M468.5 118h7M472 114.5v7M469.5 115h7M473 111.5v7M469.5 116h7M473 112.5v7M469.5 117h7M473 113.5v7M469.5 118h7M473 114.5v7M470.5 111h7M474 107.5v7M470.5 117h7M474 113.5v7M470.5 118h7M474 114.5v7M470.5 121h7M474 117.5v7M471.5 113h7M475 109.5v7M471.5 116h7M475 112.5v7M471.5 117h7M475 113.5v7M472.5 111h7M476 107.5v7M472.5 115h7M476 111.5v7M472.5 116h7M476 112.5v7M472.5 119h7M476 115.5v7M473.5 117h7M477 113.5v7M473.5 120h7M477 116.5v7M473.5 122h7M477 118.5v7M474.5 111h7M478 107.5v7M474.5 117h7M478 113.5v7M474.5 118h7M478 114.5v7M474.5 119h7M478 115.5v7M475.5 112h7M479 108.5v7M475.5 115h7M479 111.5v7M475.5 116h7M479 112.5v7M476.5 111h7M480 107.5v7M476.5 114h7M480 110.5v7M476.5 117h7M480 113.5v7M477.5 111h7M481 107.5v7M477.5 114h7M481 110.5v7M477.5 115h7M481 111.5v7M478.5 115h7M482 111.5v7M478.5 117h7M482 113.5v7M478.5 119h7M482 115.5v7M479.5 111h7M483 107.5v7M479.5 112h7M483 108.5v7M479.5 121h7M483 117.5v7M480.5 114h7M484 110.5v7M480.5 116h7M484 112.5v7M480.5 121h7M484 117.5v7M481.5 113h7M485 109.5v7M481.5 118h7M485 114.5v7M481.5 119h7M485 115.5v7M482.5 114h7M486 110.5v7M482.5 117h7M486 113.5v7M482.5 118h7M486 114.5v7M482.5 122h7M486 118.5v7M483.5 111h7M487 107.5v7M483.5 117h7M487 113.5v7M483.5 119h7M487 115.5v7M483.5 121h7M487 117.5v7M484.5 117h7M488 113.5v7M484.5 119h7M488 115.5v7M484.5 120h7M488 116.5v7M485.5 111h7M489 107.5v7M485.5 117h7M489 113.5v7M485.5 119h7M489 115.5v7M486.5 113h7M490 109.5v7M486.5 119h7M490 115.5v7M486.5 120h7M490 116.5v7M487.5 111h7M491 107.5v7M487.5 118h7M491 114.5v7M487.5 119h7M491 115.5v7M487.5 120h7M491 116.5v7M488.5 113h7M492 109.5v7M488.5 114h7M492 110.5v7M488.5 119h7M492 115.5v7M488.5 122h7M492 118.5v7M489.5 117h7M493 113.5v7M489.5 118h7M493 114.5v7M489.5 121h7M493 117.5v7M490.5 114h7M494 110.5v7M490.5 117h7M494 113.5v7M490.5 120h7M494 116.5v7M490.5 122h7M494 118.5v7M491.5 111h7M495 107.5v7M491.5 112h7M495 108.5v7M491.5 118h7M495 114.5v7M492.5 113h7M496 109.5v7M492.5 114h7M496 110.5v7M492.5 115h7M496 111.5v7M492.5 116h7M496 112.5v7M492.5 126h7M496 122.5v7M493.5 118h7M497 114.5v7M494.5 118h7M498 114.5v7M494.5 121h7M498 117.5v7M495.5 116h7M499 112.5v7M495.5 118h7M499 114.5v7M495.5 122h7M499 118.5v7M496.5 111h7M500 107.5v7M496.5 117h7M500 113.5v7M496.5 119h7M500 115.5v7M497.5 115h7M501 111.5v7M497.5 118h7M501 114.5v7M497.5 119h7M501 115.5v7M498.5 111h7M502 107.5v7M498.5 114h7M502 110.5v7M498.5 115h7M502 111.5v7M499.5 115h7M503 111.5v7M499.5 118h7M503 114.5v7M499.5 120h7M503 116.5v7M499.5 122h7M503 118.5v7M500.5 111h7M504 107.5v7M500.5 114h7M504 110.5v7M500.5 116h7M504 112.5v7M501.5 111h7M505 107.5v7M501.5 119h7M505 115.5v7M501.5 121h7M505 117.5v7M502.5 108h7M506 104.5v7M502.5 111h7M506 107.5v7M502.5 116h7M506 112.5v7M502.5 118h7M506 114.5v7M503.5 114h7M507 110.5v7M503.5 116h7M507 112.5v7M503.5 117h7M507 113.5v7M503.5 118h7M507 114.5v7M504.5 111h7M508 107.5v7M504.5 116h7M508 112.5v7M504.5 118h7M508 114.5v7M504.5 119h7M508 115.5v7M505.5 114h7M509 110.5v7M505.5 116h7M509 112.5v7M505.5 119h7M509 115.5v7M506.5 111h7M510 107.5v7M506.5 118h7M510 114.5v7M506.5 122h7M510 118.5v7M507.5 116h7M511 112.5v7M507.5 118h7M511 114.5v7M508.5 111h7M512 107.5v7M508.5 116h7M512 112.5v7M508.5 117h7M512 113.5v7M508.5 118h7M512 114.5v7M509.5 116h7M513 112.5v7M509.5 120h7M513 116.5v7M509.5 123h7M513 119.5v7M510.5 114h7M514 110.5v7M510.5 116h7M514 112.5v7M510.5 117h7M514 113.5v7M510.5 120h7M514 116.5v7M511.5 112h7M515 108.5v7M511.5 117h7M515 113.5v7M511.5 118h7M515 114.5v7M512.5 117h7M516 113.5v7M512.5 118h7M516 114.5v7M512.5 123h7M516 119.5v7M513.5 114h7M517 110.5v7M513.5 116h7M517 112.5v7M513.5 119h7M517 115.5v7M513.5 122h7M517 118.5v7M514.5 116h7M518 112.5v7M514.5 117h7M518 113.5v7M514.5 119h7M518 115.5v7M514.5 121h7M518 117.5v7M515.5 115h7M519 111.5v7M515.5 122h7M519 118.5v7M516.5 119h7M520 115.5v7M516.5 120h7M520 116.5v7M516.5 122h7M520 118.5v7M517.5 115h7M521 111.5v7M517.5 118h7M521 114.5v7M517.5 119h7M521 115.5v7M517.5 122h7M521 118.5v7M518.5 115h7M522 111.5v7M518.5 116h7M522 112.5v7M518.5 119h7M522 115.5v7M519.5 111h7M523 107.5v7M519.5 117h7M523 113.5v7M519.5 122h7M523 118.5v7M520.5 116h7M524 112.5v7M520.5 118h7M524 114.5v7M520.5 121h7M524 117.5v7M521.5 111h7M525 107.5v7M521.5 115h7M525 111.5v7M521.5 117h7M525 113.5v7M521.5 118h7M525 114.5v7M522.5 109h7M526 105.5v7M522.5 113h7M526 109.5v7M522.5 118h7M526 114.5v7M522.5 119h7M526 115.5v7M522.5 120h7M526 116.5v7M523.5 111h7M527 107.5v7M523.5 113h7M527 109.5v7M523.5 115h7M527 111.5v7M524.5 121h7M528 117.5v7M525.5 111h7M529 107.5v7M525.5 116h7M529 112.5v7M525.5 117h7M529 113.5v7M526.5 113h7M530 109.5v7M526.5 114h7M530 110.5v7M526.5 117h7M530 113.5v7M526.5 122h7M530 118.5v7M527.5 116h7M531 112.5v7M527.5 117h7M531 113.5v7M527.5 121h7M531 117.5v7M528.5 113h7M532 109.5v7M528.5 115h7M532 111.5v7M528.5 116h7M532 112.5v7M528.5 122h7M532 118.5v7M529.5 114h7M533 110.5v7M529.5 115h7M533 111.5v7M529.5 118h7M533 114.5v7M530.5 111h7M534 107.5v7M530.5 112h7M534 108.5v7M530.5 116h7M534 112.5v7M530.5 118h7M534 114.5v7M531.5 115h7M535 111.5v7M531.5 117h7M535 113.5v7M531.5 118h7M535 114.5v7M531.5 120h7M535 116.5v7M531.5 127h7M535 123.5v7M532.5 110h7M536 106.5v7M532.5 115h7M536 111.5v7M532.5 116h7M536 112.5v7M533.5 112h7M537 108.5v7M533.5 119h7M537 115.5v7M533.5 120h7M537 116.5v7M534.5 111h7M538 107.5v7M534.5 113h7M538 109.5v7M534.5 114h7M538 110.5v7M534.5 121h7M538 117.5v7M535.5 114h7M539 110.5v7M535.5 119h7M539 115.5v7M535.5 121h7M539 117.5v7M536.5 111h7M540 107.5v7M536.5 114h7M540 110.5v7M536.5 118h7M540 114.5v7M537.5 116h7M541 112.5v7M537.5 117h7M541 113.5v7M538.5 111h7M542 107.5v7M538.5 113h7M542 109.5v7M538.5 114h7M542 110.5v7M538.5 121h7M542 117.5v7M539.5 111h7M543 107.5v7M539.5 117h7M543 113.5v7M539.5 119h7M543 115.5v7M539.5 122h7M543 118.5v7M540.5 111h7M544 107.5v7M540.5 113h7M544 109.5v7M540.5 118h7M544 114.5v7M540.5 119h7M544 115.5v7M541.5 115h7M545 111.5v7M541.5 120h7M545 116.5v7M541.5 122h7M545 118.5v7M542.5 111h7M546 107.5v7M542.5 115h7M546 111.5v7M542.5 120h7M546 116.5v7M543.5 115h7M547 111.5v7M543.5 119h7M547 115.5v7M543.5 121h7M547 117.5v7M544.5 111h7M548 107.5v7M544.5 113h7M548 109.5v7M544.5 117h7M548 113.5v7M544.5 118h7M548 114.5v7M545.5 116h7M549 112.5v7M545.5 119h7M549 115.5v7M545.5 120h7M549 116.5v7M545.5 122h7M549 118.5v7M546.5 114h7M550 110.5v7M546.5 115h7M550 111.5v7M546.5 116h7M550 112.5v7M547.5 113h7M551 109.5v7M547.5 116h7M551 112.5v7M547.5 118h7M551 114.5v7M548.5 113h7M552 109.5v7M548.5 115h7M552 111.5v7M548.5 118h7M552 114.5v7M548.5 121h7M552 117.5v7M549.5 111h7M553 107.5v7M549.5 115h7M553 111.5v7M549.5 116h7M553 112.5v7M549.5 117h7M553 113.5v7M550.5 116h7M554 112.5v7M550.5 118h7M554 114.5v7M550.5 119h7M554 115.5v7M551.5 111h7M555 107.5v7M551.5 119h7M555 115.5v7M552.5 112h7M556 108.5v7M552.5 116h7M556 112.5v7M552.5 117h7M556 113.5v7M552.5 118h7M556 114.5v7M553.5 111h7M557 107.5v7M553.5 115h7M557 111.5v7M553.5 117h7M557 113.5v7M553.5 118h7M557 114.5v7M554.5 109h7M558 105.5v7M554.5 115h7M558 111.5v7M554.5 116h7M558 112.5v7M554.5 117h7M558 113.5v7M555.5 111h7M559 107.5v7M555.5 113h7M559 109.5v7M555.5 117h7M559 113.5v7M555.5 120h7M559 116.5v7M555.5 148h7M559 144.5v7M570.5 57h7M574 53.5v7"/>
<path d="M135 431v-4.5M135 45v4.5M188 431v-4.5M188 45v4.5M241 431v-4.5M241 45v4.5M294 431v-4.5M294 45v4.5M347 431v-4.5M347 45v4.5M400 431v-4.5M400 45v4.5M453 431v-4.5M453 45v4.5M506 431v-4.5M506 45v4.5M559 431v-4.5M559 45v4.5M82 390h4.5M612 390h-4.5M82 349h4.5M612 349h-4.5M82 309h4.5M612 309h-4.5M82 268h4.5M612 268h-4.5M82 227h4.5M612 227h-4.5M82 186h4.5M612 186h-4.5M82 145h4.5M612 145h-4.5M82 105h4.5M612 105h-4.5M82 64h4.5M612 64h-4.5"/>
<rect x="82" y="45" width="530" height="386"/>
</g>
<g font-family="'Liberation Sans', Arial, sans-serif" font-size="16" fill="#000">
<text x="73.2" y="435" text-anchor="end" letter-spacing="0.1">0</text>
<text x="73.2" y="394" text-anchor="end" letter-spacing="0.1">1000</text>
<text x="73.2" y="353" text-anchor="end" letter-spacing="0.1">2000</text>
<text x="73.2" y="313" text-anchor="end" letter-spacing="0.1">3000</text>
<text x="73.2" y="272" text-anchor="end" letter-spacing="0.1">4000</text>
<text x="73.2" y="231" text-anchor="end" letter-spacing="0.1">5000</text>
<text x="73.2" y="190" text-anchor="end" letter-spacing="0.1">6000</text>
<text x="73.2" y="149" text-anchor="end" letter-spacing="0.1">7000</text>
<text x="73.2" y="109" text-anchor="end" letter-spacing="0.1">8000</text>
<text x="73.2" y="68" text-anchor="end" letter-spacing="0.1">9000</text>
<text x="83.0" y="449.8" text-anchor="middle">0</text>
<text x="136.5" y="449.8" text-anchor="middle">200</text>
<text x="189.5" y="449.8" text-anchor="middle">400</text>
<text x="242.5" y="449.8" text-anchor="middle">600</text>
<text x="295.5" y="449.8" text-anchor="middle">800</text>
<text x="348.8" y="449.8" text-anchor="middle">1000</text>
<text x="401.8" y="449.8" text-anchor="middle">1200</text>
<text x="454.8" y="449.8" text-anchor="middle">1400</text>
<text x="507.8" y="449.8" text-anchor="middle">1600</text>
<text x="560.8" y="449.8" text-anchor="middle">1800</text>
<text x="613.8" y="449.8" text-anchor="middle">2000</text>
<text x="346.5" y="27" text-anchor="middle" letter-spacing="0.055">QPS vs Time for qp1000.L6</text>
<text x="348" y="472" text-anchor="middle">Time(s)</text>
<text transform="translate(16.6,237.6) rotate(-90)" text-anchor="middle">QPS</text>
<text y="61"><tspan x="314.05">ma100244</tspan><tspan font-size="12.8" x="390.5" dy="3.6">r</tspan><tspan x="394.6" dy="-3.6">el</tspan><tspan font-size="12.8" x="405.65" dy="3.6">w</tspan><tspan x="415.5" dy="-3.6">ithdbg.cz12a</tspan><tspan font-size="12.8" x="507.1" dy="3.6">c</tspan><tspan x="512.77" dy="-3.6">8r32</tspan></text>
</g>
</svg></body></html>
